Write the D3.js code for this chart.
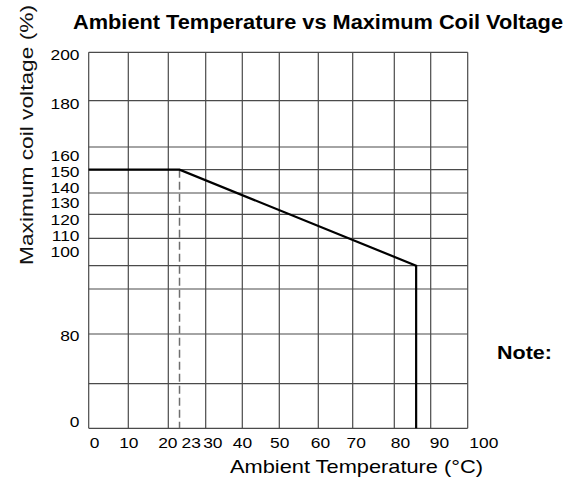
<!DOCTYPE html>
<html>
<head>
<meta charset="utf-8">
<script src="https://cdn.jsdelivr.net/npm/d3@7"></script>
<style>
  html, body { margin: 0; padding: 0; background: #fff; }
  svg { display: block; font-family: "Liberation Sans", Arial, Helvetica, sans-serif; }
</style>
</head>
<body>
<svg id="chart" width="566" height="482"></svg>
<script>
// ---- data ----
const titleText = "Ambient Temperature vs Maximum Coil Voltage";
const xTitle = "Ambient Temperature (\u00B0C)";
const yTitle = "Maximum coil voltage (%)";
const noteText = "Note:";

const xTicks = [0, 10, 20, 23, 30, 40, 50, 60, 70, 80, 90, 100];
const yTicks = [0, 80, 100, 110, 120, 130, 140, 150, 160, 180, 200];

const xGrid = [0, 10, 20, 30, 40, 50, 60, 70, 80, 90, 100];
const yGrid = [0, 40, 80, 90, 100, 110, 130, 140, 150, 160, 180, 200];

// max coil voltage curve
const curveTemp = [0, 23, 86, 86];
const curveVolt = [150, 150, 100, 0];

// dashed reference line at 23 °C
const refTemp = [23, 23];
const refVolt = [150, 0];

// ---- layout (the original axes are hand-drawn, non-uniform) ----
const svg = d3.select("#chart");
const stretch = 1.16; // the original lettering is horizontally wide

const x = d3.scaleLinear()
  .domain(xGrid)
  .range([88.7, 128.3, 168.3, 205.7, 242.3, 279.3, 318.3, 352.7, 394.3, 430.7, 467.7]);
const y = d3.scaleLinear()
  .domain(yGrid)
  .range([428.3, 383.7, 334, 289, 265.7, 238.3, 214.3, 193, 169.7, 147, 100.7, 52.3]);

// tick labels are set slightly apart from the grid in the original
const xLab = d3.scaleLinear()
  .domain(xTicks)
  .range([94.2, 128.3, 167.3, 190.7, 212.3, 242, 279.2, 320, 355.7, 400, 439, 483.3]);
const yLab = d3.scaleLinear()
  .domain(yTicks)
  .range([421.7, 335.3, 251.2, 235.5, 219.5, 203, 187.2, 171.3, 155.3, 104, 54.3]);

const [x0, x1] = [x(0), x(100)];
const [y0, y1] = [y(0), y(200)];

// grid
const grid = svg.append("g").attr("stroke", "#4a4a4a").attr("stroke-width", 1.2).attr("fill", "none");
grid.selectAll("line.v").data(xGrid).join("line")
  .attr("class", "v")
  .attr("x1", d => x(d)).attr("x2", d => x(d))
  .attr("y1", y0).attr("y2", y1);
grid.selectAll("line.h").data(yGrid).join("line")
  .attr("class", "h")
  .attr("x1", x0).attr("x2", x1)
  .attr("y1", d => y(d)).attr("y2", d => y(d));

// dashed reference
const refPts = refTemp.map((t, i) => [t, refVolt[i]]);
svg.append("path")
  .datum(refPts)
  .attr("fill", "none")
  .attr("stroke", "#6e6e6e")
  .attr("stroke-width", 1.5)
  .attr("stroke-dasharray", "8,4")
  .attr("d", d3.line().x(d => x(d[0])).y(d => y(d[1])));

// curve
const curvePts = curveTemp.map((t, i) => [t, curveVolt[i]]);
svg.append("path")
  .datum(curvePts)
  .attr("fill", "none")
  .attr("stroke", "#000")
  .attr("stroke-width", 2.2)
  .attr("stroke-linejoin", "miter")
  .attr("d", d3.line().x(d => x(d[0])).y(d => y(d[1])));

// axes (labels only)
const xAxis = svg.append("g")
  .attr("transform", `translate(0,${y0})`)
  .call(d3.axisBottom(xLab).tickValues(xTicks).tickSize(0).tickPadding(9.4).tickFormat(d3.format("d")));
xAxis.select(".domain").remove();
xAxis.selectAll("text").attr("font-size", 15).attr("fill", "#000")
  .attr("font-family", "'Liberation Sans', Arial, sans-serif")
  .attr("transform", `scale(${stretch},1)`);

const yAxis = svg.append("g")
  .attr("transform", `translate(79.5,0)`)
  .call(d3.axisLeft(yLab).tickValues(yTicks).tickSize(0).tickPadding(0).tickFormat(d3.format("d")));
yAxis.select(".domain").remove();
yAxis.selectAll("text").attr("font-size", 15).attr("fill", "#000")
  .attr("font-family", "'Liberation Sans', Arial, sans-serif")
  .attr("transform", `scale(${stretch},1)`);

// titles
svg.append("text")
  .attr("x", 318).attr("y", 29.3)
  .attr("text-anchor", "middle")
  .attr("font-size", 20).attr("font-weight", "bold")
  .attr("textLength", 490).attr("lengthAdjust", "spacingAndGlyphs")
  .text(titleText);

svg.append("text")
  .attr("x", 356.5).attr("y", 473.3)
  .attr("text-anchor", "middle")
  .attr("font-size", 19)
  .attr("textLength", 253).attr("lengthAdjust", "spacingAndGlyphs")
  .text(xTitle);

svg.append("text")
  .attr("transform", "translate(32.5,135) rotate(-90)")
  .attr("text-anchor", "middle")
  .attr("font-size", 18.5)
  .attr("fill", "#111")
  .attr("textLength", 260).attr("lengthAdjust", "spacingAndGlyphs")
  .text(yTitle);

svg.append("text")
  .attr("x", 497).attr("y", 358.5)
  .attr("font-size", 18).attr("font-weight", "bold")
  .attr("textLength", 55).attr("lengthAdjust", "spacingAndGlyphs")
  .text(noteText);
</script>
</body>
</html>
